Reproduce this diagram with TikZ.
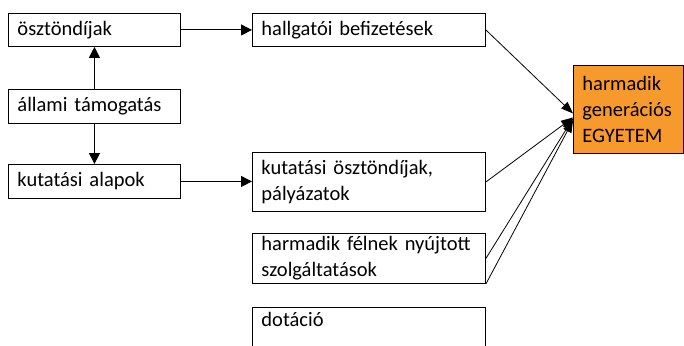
\documentclass[tikz,border=0pt]{standalone}
\usepackage{fontspec}
\setmainfont{Carlito}
\usetikzlibrary{arrows.meta,calc}
\definecolor{gen}{HTML}{F79A2E}
\newcommand\mybf{\fontsize{20.5}{26}\selectfont\spaceskip=3.8pt\relax}
\begin{document}
\begin{tikzpicture}[x=1pt,y=-1pt,
  box/.style={draw, line width=0.9pt, inner xsep=9pt, inner ysep=0pt, align=left, anchor=north west, font=\mybf},
  arr/.style={line width=0.9pt, -{Triangle[length=11pt,width=11pt]}},
  ln/.style={line width=0.8pt, -{Triangle[length=12pt,width=9pt]}}]
\useasboundingbox (0,0) rectangle (684,345);
\clip (0,0) rectangle (684,345);
\node[box, text width=154pt, minimum height=33pt] (osz) at (8,13) {ösztöndíjak};
\node[box, text width=154pt, minimum height=34pt] (all) at (8,89) {állami támogatás};
\node[box, text width=154pt, minimum height=34pt] (kut) at (8,164) {kutatási alapok};
\node[box, text width=215pt, minimum height=33pt] (hb) at (252,13) {hallgatói befizetések};
\node[box, text width=215pt, minimum height=59pt] (ko) at (252,152) {kutatási ösztöndíjak,\\pályázatok};
\node[box, text width=215pt, minimum height=50pt] (hf) at (252,233) {harmadik félnek nyújtott\\szolgáltatások};
\node[box, text width=215pt, minimum height=50pt, text depth=26pt] (dot) at (252,307) {dotáció};
\node[box, fill=gen, text width=92pt, minimum height=88pt] (ge) at (573,65) {harmadik\\generációs\\EGYETEM};
\draw[arr] (osz.east) -- (hb.west);
\draw[arr] (kut.east) -- (kut.east -| ko.west);
\draw[arr] (all.north) -- (osz.south);
\draw[arr] (all.south) -- (kut.south |- kut.north);
\draw[ln] (hb.east) -- ([yshift=-4pt]ge.west);
\draw[ln] (ko.east) -- ([yshift=-8pt]ge.west);
\draw[ln] (hf.east) -- ([yshift=-9pt]ge.west);
\draw[ln] ([yshift=23pt]dot.north east) -- ([yshift=-11pt]ge.west);
\end{tikzpicture}
\end{document}
